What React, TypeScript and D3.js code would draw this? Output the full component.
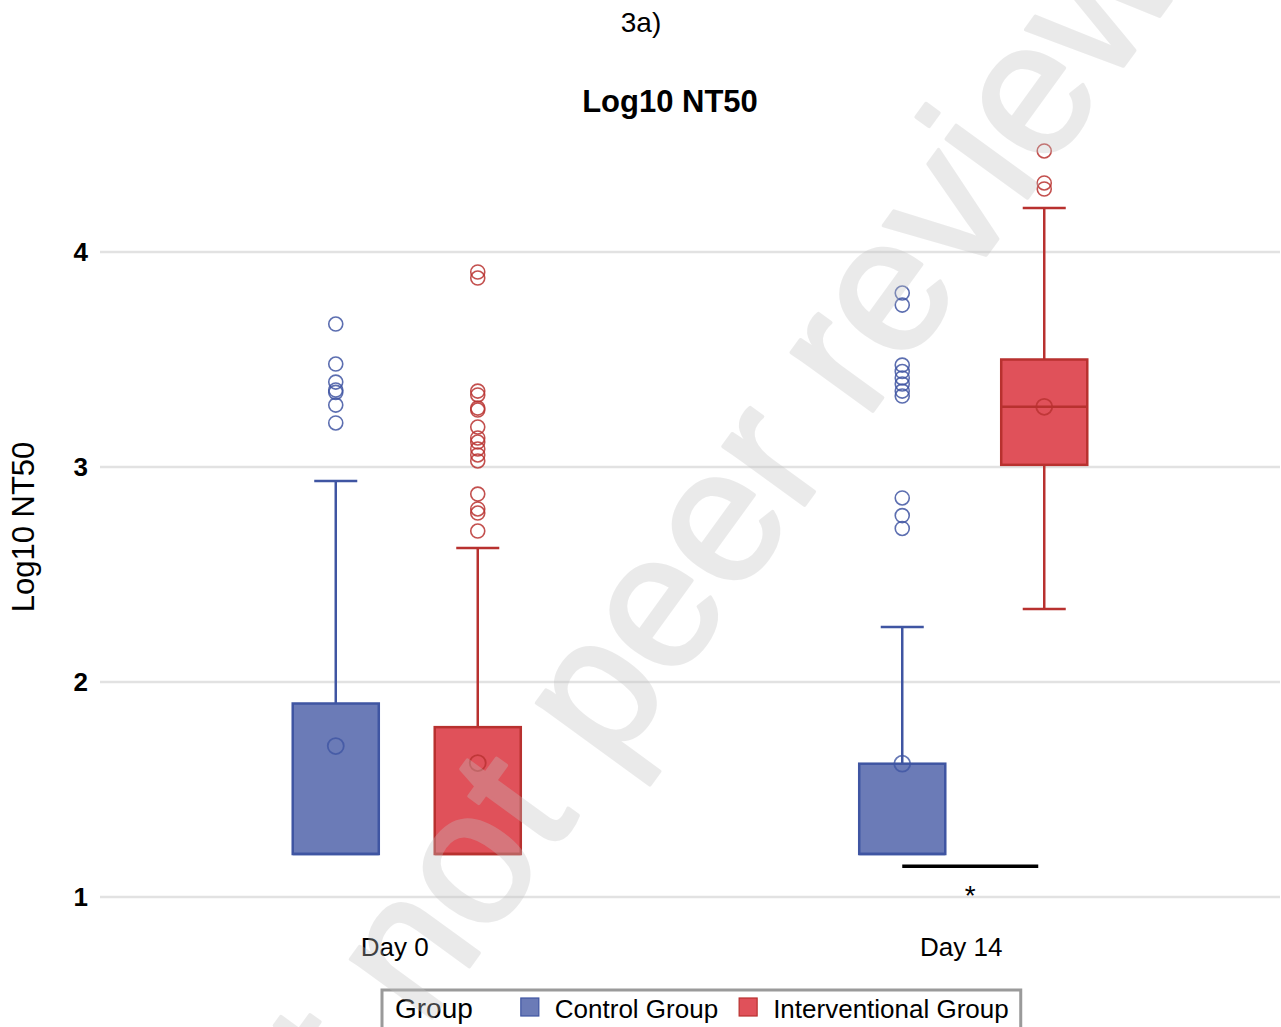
import React, { useEffect, useRef } from "react";
import * as d3 from "d3";

// Categories on the x axis and the two groups compared inside each
const CATEGORIES = ["Day 0", "Day 14"];
const GROUPS = ["Control Group", "Interventional Group"];
const GROUP_FILL = ["#6b7bb7", "#e0515a"];
const GROUP_STROKE = ["#3f55a2", "#b8312f"];

// Box statistics, indexed [category][group]
const Q1 = [
  [1.2, 1.2],
  [1.2, 3.01],
];
const MEDIAN = [
  [1.2, 1.2],
  [1.2, 3.28],
];
const Q3 = [
  [1.9, 1.79],
  [1.62, 3.5],
];
const WHISKER_LOW = [
  [1.2, 1.2],
  [1.2, 2.34],
];
const WHISKER_HIGH = [
  [2.935, 2.623],
  [2.256, 4.205],
];
const MEAN = [
  [1.702, 1.623],
  [1.62, 3.28],
];
const OUTLIERS = [
  [
    [3.665, 3.479, 3.395, 3.358, 3.347, 3.288, 3.205],
    [3.907, 3.879, 3.353, 3.335, 3.274, 3.265, 3.186, 3.135, 3.116, 3.084, 3.056, 3.028, 2.874, 2.805, 2.786, 2.702],
  ],
  [
    [3.809, 3.753, 3.474, 3.444, 3.414, 3.386, 3.353, 3.33, 2.856, 2.774, 2.714],
    [4.47, 4.321, 4.293],
  ],
];
const Y_TICKS = [1, 2, 3, 4];
const Y_DOMAIN = [1, 4];

// Significance bracket between the Day 14 groups
const SIG_CATEGORY = "Day 14";
const SIG_LEVEL = 1.143;
const SIG_LABEL = "*";

const FONT = "'Liberation Sans', Arial, sans-serif";

export default function App() {
  const ref = useRef<SVGSVGElement | null>(null);

  useEffect(() => {
    const svg = d3.select(ref.current);
    svg.selectAll("*").remove();

    const W = 1281;
    const H = 1027;
    const left = 100;
    const right = 1280;

    const y = d3.scaleLinear().domain(Y_DOMAIN).range([897, 252]);
    const x = d3
      .scaleBand<string>()
      .domain(CATEGORIES)
      .range([left, right])
      .paddingInner(0)
      .paddingOuter(0.0415);
    const inner = d3
      .scaleBand<string>()
      .domain(GROUPS)
      .range([-142, 142])
      .paddingInner(0.394)
      .paddingOuter(0.197);

    svg.append("rect").attr("width", W).attr("height", H).attr("fill", "#fff");

    // Header labels
    svg
      .append("text")
      .attr("x", 641)
      .attr("y", 32)
      .attr("text-anchor", "middle")
      .attr("font-family", FONT)
      .attr("font-size", 28)
      .text("3a)");
    svg
      .append("text")
      .attr("x", 670)
      .attr("y", 112)
      .attr("text-anchor", "middle")
      .attr("font-family", FONT)
      .attr("font-weight", "bold")
      .attr("font-size", 31)
      .text("Log10 NT50");

    // Grid lines and y tick labels
    const grid = svg.append("g");
    grid
      .selectAll("line")
      .data(Y_TICKS)
      .join("line")
      .attr("x1", left)
      .attr("x2", right)
      .attr("y1", (d) => y(d))
      .attr("y2", (d) => y(d))
      .attr("stroke", "#e2e2e2")
      .attr("stroke-width", 2.5);
    grid
      .selectAll("text")
      .data(Y_TICKS)
      .join("text")
      .attr("x", 88)
      .attr("y", (d) => y(d) + 9)
      .attr("text-anchor", "end")
      .attr("font-family", FONT)
      .attr("font-weight", "bold")
      .attr("font-size", 26)
      .text((d) => d3.format("d")(d));

    svg
      .append("text")
      .attr("transform", "translate(34,527) rotate(-90)")
      .attr("text-anchor", "middle")
      .attr("font-family", FONT)
      .attr("font-size", 31)
      .text("Log10 NT50");

    // x category labels
    svg
      .append("g")
      .selectAll("text")
      .data(CATEGORIES)
      .join("text")
      .attr("x", (d) => (x(d) as number) + x.bandwidth() / 2 - 12)
      .attr("y", 956)
      .attr("text-anchor", "middle")
      .attr("font-family", FONT)
      .attr("font-size", 26)
      .text((d) => d);

    // Box plots
    const bw = inner.bandwidth();
    const capW = bw / 2;
    CATEGORIES.forEach((cat, ci) => {
      GROUPS.forEach((grp, gi) => {
        const x0 = (x(cat) as number) + x.bandwidth() / 2 + (inner(grp) as number);
        const cx = x0 + bw / 2;
        const g = svg.append("g");
        const stroke = GROUP_STROKE[gi];
        const sw = 2.5;
        const whisker = (from: number, to: number) => {
          g.append("line")
            .attr("x1", cx)
            .attr("x2", cx)
            .attr("y1", y(from))
            .attr("y2", y(to))
            .attr("stroke", stroke)
            .attr("stroke-width", sw);
          g.append("line")
            .attr("x1", cx - capW / 2)
            .attr("x2", cx + capW / 2)
            .attr("y1", y(to))
            .attr("y2", y(to))
            .attr("stroke", stroke)
            .attr("stroke-width", sw);
        };
        if (WHISKER_HIGH[ci][gi] > Q3[ci][gi]) whisker(Q3[ci][gi], WHISKER_HIGH[ci][gi]);
        if (WHISKER_LOW[ci][gi] < Q1[ci][gi]) whisker(Q1[ci][gi], WHISKER_LOW[ci][gi]);
        // box
        g.append("rect")
          .attr("x", x0)
          .attr("y", y(Q3[ci][gi]))
          .attr("width", bw)
          .attr("height", y(Q1[ci][gi]) - y(Q3[ci][gi]))
          .attr("fill", GROUP_FILL[gi])
          .attr("stroke", stroke)
          .attr("stroke-width", sw);
        // median
        g.append("line")
          .attr("x1", x0)
          .attr("x2", x0 + bw)
          .attr("y1", y(MEDIAN[ci][gi]))
          .attr("y2", y(MEDIAN[ci][gi]))
          .attr("stroke", stroke)
          .attr("stroke-width", sw);
        // mean
        g.append("circle")
          .attr("cx", cx)
          .attr("cy", y(MEAN[ci][gi]))
          .attr("r", 8)
          .attr("fill", "none")
          .attr("stroke", stroke)
          .attr("stroke-opacity", 0.8)
          .attr("stroke-width", 1.8);
        // outliers
        g.selectAll("circle.out")
          .data(OUTLIERS[ci][gi])
          .join("circle")
          .attr("class", "out")
          .attr("cx", cx)
          .attr("cy", (d) => y(d))
          .attr("r", 7)
          .attr("fill", "none")
          .attr("stroke", stroke)
          .attr("stroke-opacity", 0.85)
          .attr("stroke-width", 1.6);
      });
    });

    // Significance bracket
    const sx1 = (x(SIG_CATEGORY) as number) + x.bandwidth() / 2 + (inner(GROUPS[0]) as number) + bw / 2;
    const sx2 = (x(SIG_CATEGORY) as number) + x.bandwidth() / 2 + (inner(GROUPS[1]) as number) + bw / 2 - 6;
    svg
      .append("line")
      .attr("x1", sx1)
      .attr("x2", sx2)
      .attr("y1", y(SIG_LEVEL))
      .attr("y2", y(SIG_LEVEL))
      .attr("stroke", "#000")
      .attr("stroke-width", 3.5);
    svg
      .append("text")
      .attr("x", (sx1 + sx2) / 2)
      .attr("y", y(SIG_LEVEL) + 39)
      .attr("text-anchor", "middle")
      .attr("font-family", FONT)
      .attr("font-size", 28)
      .text(SIG_LABEL);

    // Legend
    const lg = svg.append("g");
    const ly = 1018;
    const frameX = 382;
    const title = lg
      .append("text")
      .attr("x", 395)
      .attr("y", ly)
      .attr("font-family", FONT)
      .attr("font-size", 28)
      .text("Group");
    let cursor = 395 + (title.node() as SVGTextElement).getComputedTextLength() + 48;
    GROUPS.forEach((grp, gi) => {
      lg.append("rect")
        .attr("x", cursor)
        .attr("y", 998)
        .attr("width", 18)
        .attr("height", 18)
        .attr("fill", GROUP_FILL[gi])
        .attr("stroke", GROUP_STROKE[gi])
        .attr("stroke-width", 1.2);
      const t = lg
        .append("text")
        .attr("x", cursor + 34)
        .attr("y", ly)
        .attr("font-family", FONT)
        .attr("font-size", 26)
        .text(grp);
      cursor += 34 + (t.node() as SVGTextElement).getComputedTextLength() + 21;
    });
    lg.insert("rect", ":first-child")
      .attr("x", frameX)
      .attr("y", 990)
      .attr("width", cursor - 21 + 12 - frameX)
      .attr("height", 60)
      .attr("fill", "#fff")
      .attr("stroke", "#9a9a9a")
      .attr("stroke-width", 3);

    // Preprint watermark laid across the figure
    svg
      .append("g")
      .attr("opacity", 0.33)
      .append("text")
      .attr("transform", "translate(657,708) rotate(-54)")
      .attr("text-anchor", "middle")
      .attr("font-family", FONT)
      .attr("font-size", 190)
      .attr("fill", "#c2c2c2")
      .attr("stroke", "#c2c2c2")
      .attr("stroke-width", 3.5)
      .attr("stroke-linejoin", "round")
      .text("Preprint not peer reviewed");
  }, []);

  return (
    <svg
      ref={ref}
      width={1281}
      height={1027}
      style={{ position: "absolute", left: 0, top: 0, display: "block" }}
    />
  );
}
